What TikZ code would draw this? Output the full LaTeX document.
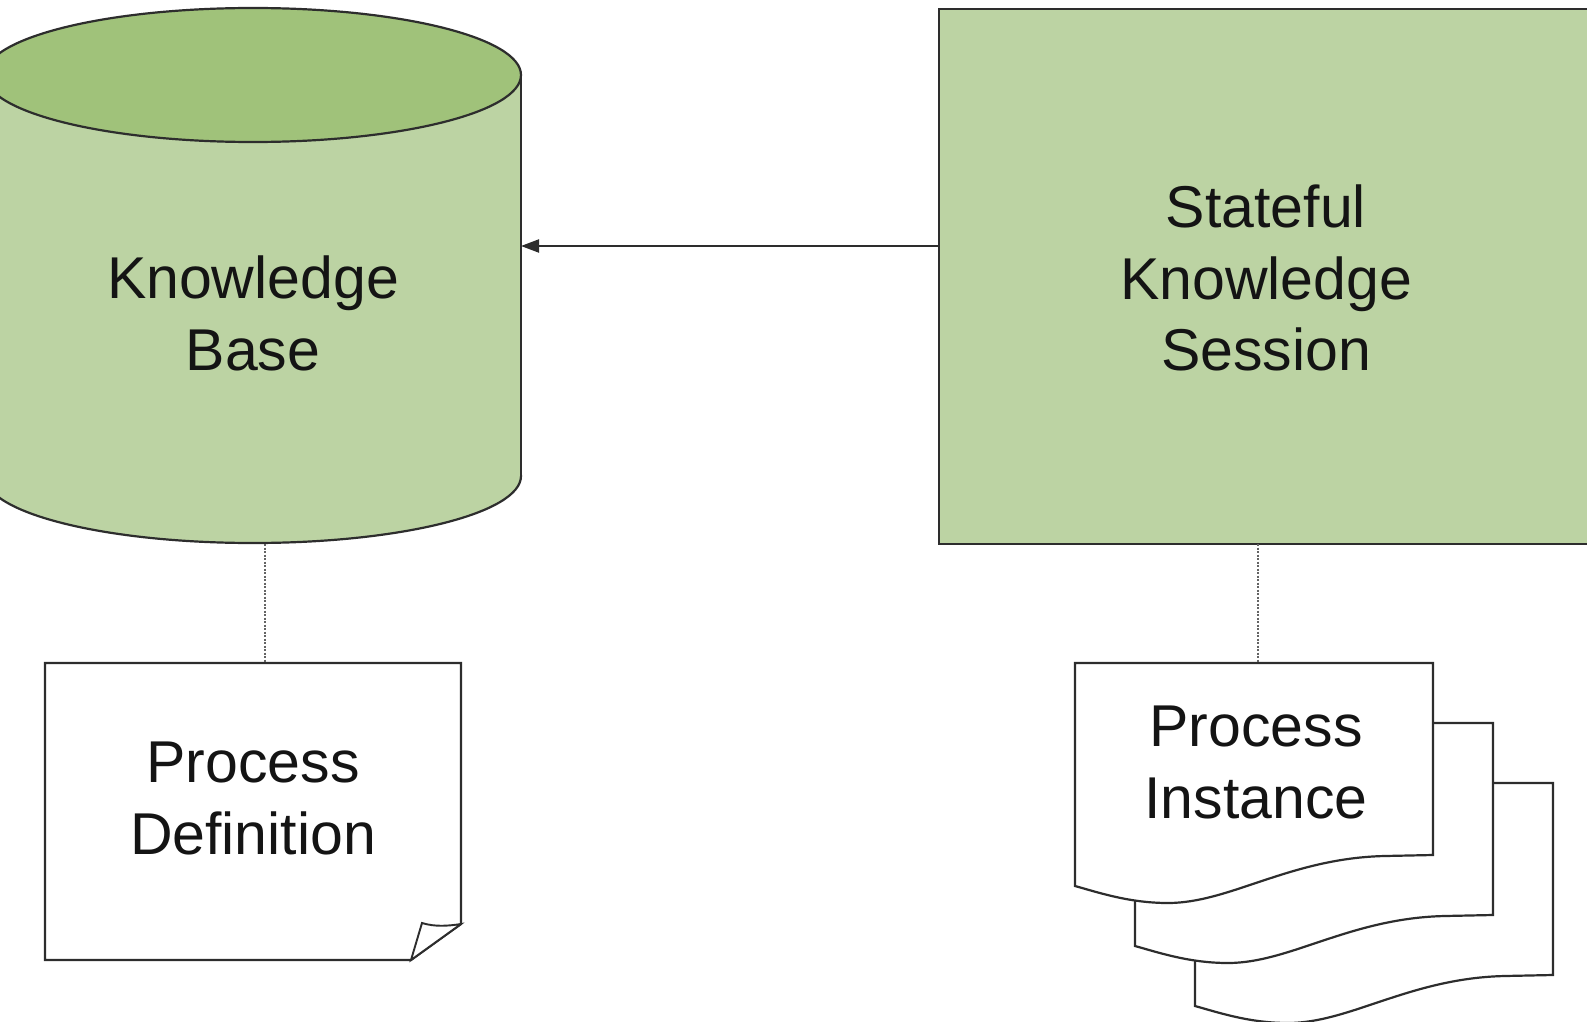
\documentclass[tikz,border=0pt]{standalone}
\usepackage{fontspec}
\setmainfont{Liberation Sans}
\usetikzlibrary{arrows.meta}
\definecolor{bodyg}{RGB}{188,211,163}
\definecolor{topg}{RGB}{160,194,122}
\definecolor{edgec}{RGB}{45,45,45}
\definecolor{linkc}{RGB}{100,100,100}
\begin{document}
\begin{tikzpicture}[x=1pt,y=-1pt,
  outl/.style={draw=edgec, line width=2.2pt, line join=miter},
  lbl/.style={font=\fontsize{59}{71.5}\selectfont, align=center, inner sep=0pt, anchor=north, text=black!92},
  linkline/.style={draw=linkc, line width=1.8pt, dash pattern=on 2pt off 1.5pt},
  arr/.style={draw=edgec, line width=2.2pt, -{Triangle[length=18pt,width=13pt]}}]
\useasboundingbox (0,0) rectangle (1587,1022);
\clip (0,0) rectangle (1587,1022);
% Knowledge base cylinder
\draw[outl, fill=bodyg] (253,476) ellipse [x radius=268, y radius=67];
\fill[bodyg] (-15,75) rectangle (521,476);
\draw[outl] (-15,75) -- (-15,476);
\draw[outl] (521,75) -- (521,476);
\draw[outl, fill=topg] (253,75) ellipse [x radius=268, y radius=67];
\node[lbl] (kbText) at (253,256) {Knowledge\\Base};
% Stateful knowledge session
\node[outl, fill=bodyg, anchor=north west, minimum width=700pt, minimum height=535pt, inner sep=0pt] (sks) at (938,8) {};
\node[lbl] (sksText) at (1266,185) {Stateful\\Knowledge\\Session};
% Process definition (folded corner)
\draw[outl, fill=white] (45,663) -- (461,663) -- (461,924) -- (411,960) -- (45,960) -- cycle;
\draw[outl, line width=1.9pt, fill=white] (411,960) -- (422,923) .. controls (435,927) and (448,926) .. (461,924) -- cycle;
\node[lbl] (pdText) at (253,742) {Process\\Definition};
% Process instance (multiple documents)
\foreach \d in {120,60,0}{
  \draw[outl, fill=white, shift={(\d,\d)}] (1075,663) -- (1433,663) -- (1433,855) -- (1385,856)
    .. controls (1290,858) and (1230,903) .. (1168,903)
    .. controls (1130,903) and (1100,893) .. (1075,886) -- cycle;
}
\node[lbl] (piText) at (1256,706) {Process\\Instance};
% connectors
\coordinate (kbR) at (521,246);
\coordinate (sksL) at (938,246);
\coordinate (kbB) at (265,544);
\coordinate (pdT) at (265,662);
\coordinate (sksB) at (1258,544);
\coordinate (piT) at (1258,662);
\draw[arr] (sksL) -- (kbR);
\draw[linkline] (kbB) -- (pdT);
\draw[linkline] (sksB) -- (piT);
\end{tikzpicture}
\end{document}
